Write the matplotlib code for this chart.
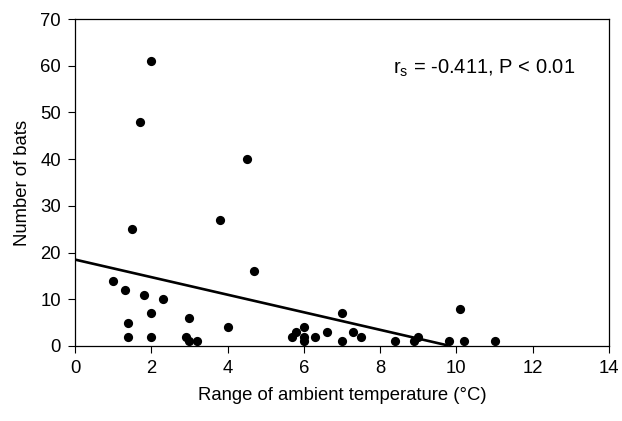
import matplotlib
matplotlib.use("Agg")
import matplotlib.pyplot as plt
import numpy as np

plt.rcParams['font.family'] = ['Liberation Sans', 'DejaVu Sans']
plt.rcParams['mathtext.fontset'] = 'custom'
plt.rcParams['mathtext.rm'] = 'Liberation Sans'

# range of ambient temperature (C) and number of bats
temp_range = [1.0, 1.3, 1.8, 2.3, 2.0, 1.4, 1.4, 2.0, 3.0, 4.0, 2.9, 3.0, 3.2, 4.7,
              2.0, 1.7, 4.5, 1.5, 3.8,
              5.7, 5.8, 6.0, 6.0, 6.0, 6.3, 6.6, 7.0, 7.0, 7.3, 7.5,
              8.4, 8.9, 9.0, 9.8, 10.1, 10.2, 11.0]
n_bats = [14, 12, 11, 10, 7, 5, 2, 2, 6, 4, 2, 1, 1, 16,
          61, 48, 40, 25, 27,
          2, 3, 4, 2, 1, 2, 3, 7, 1, 3, 2,
          1, 1, 2, 1, 8, 1, 1]

# fitted line
fit_intercept = 18.5
fit_slope = -1.88
fit_x = [0, 9.75]

fig = plt.figure(figsize=(6.22, 4.21), dpi=100)
ax = fig.add_axes([75/622, 1 - 346/421, (609-75)/622, (346-19)/421])

ax.scatter(temp_range, n_bats, s=44, color='black', zorder=3, linewidths=0)
xs = np.array(fit_x)
ax.plot(xs, fit_intercept + fit_slope*xs, color='black', linewidth=1.9)

ax.set_xlim(0, 14)
ax.set_ylim(0, 70)
ax.set_xticks(range(0, 15, 2))
ax.set_yticks(range(0, 71, 10))
ax.tick_params(direction='out', length=5, width=0.8, labelsize=13.3, pad=5)
for s in ax.spines.values():
    s.set_linewidth(0.9)

ax.set_xlabel('Range of ambient temperature (\u00b0C)', fontsize=13.3, labelpad=7)
ax.set_ylabel('Number of bats', fontsize=13.3, labelpad=7)

ax.text(8.33, 59.4, r'r$_\mathrm{s}$ = -0.411, P < 0.01', fontsize=14.5, va='center', ha='left')

fig.savefig('out.png', dpi=100)
